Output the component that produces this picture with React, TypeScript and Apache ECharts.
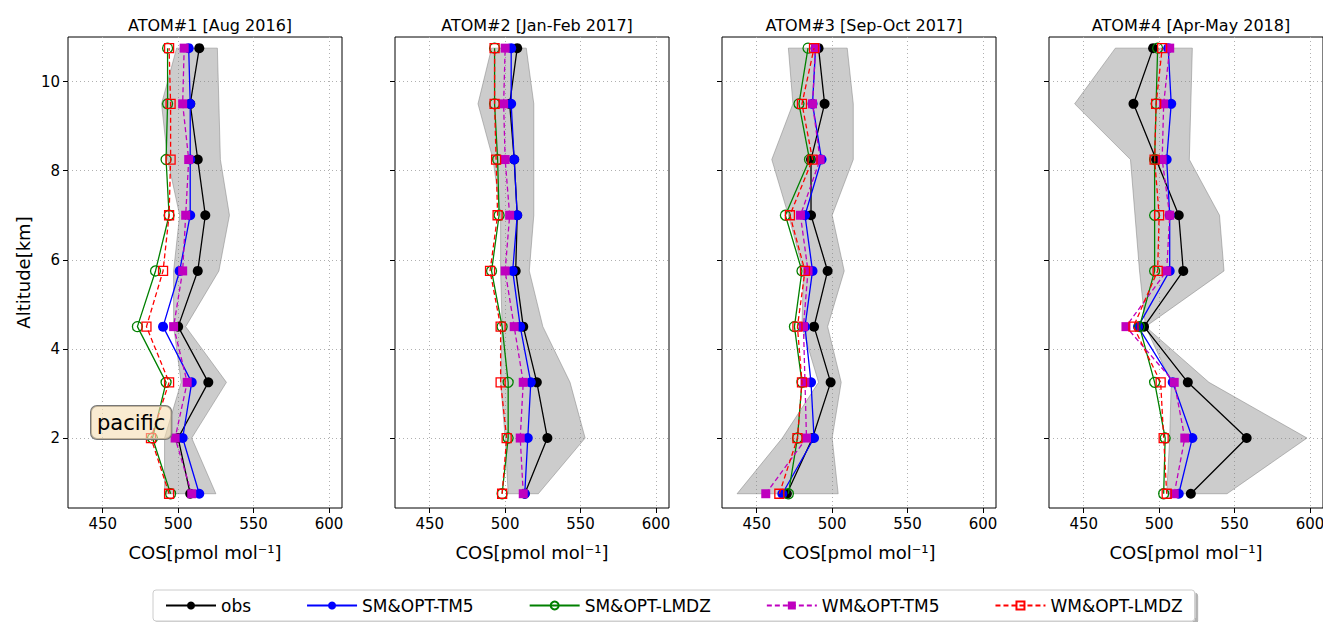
import React, { useEffect, useRef } from "react";
import * as echarts from "echarts";

const altitudes = [0.75, 2, 3.25, 4.5, 5.75, 7, 8.25, 9.5, 10.75];
const titles = ["ATOM#1 [Aug 2016]", "ATOM#2 [Jan-Feb 2017]", "ATOM#3 [Sep-Oct 2017]", "ATOM#4 [Apr-May 2018]"];
const xTicks = [450, 500, 550, 600];
const yTicks = [2, 4, 6, 8, 10];

const obs = [
  [508, 500, 520, 500, 513, 518, 513, 508, 514],
  [513, 528, 521, 512, 507, 508, 506, 503, 508],
  [470, 487, 499, 488, 497, 486, 486, 495, 491],
  [521, 558, 519, 490, 516, 513, 498, 483, 496],
];
const bandLow = [
  [491, 491, 502, 497, 497, 501, 493, 489, 499],
  [502, 500, 497, 498, 497, 497, 492, 482, 491],
  [437, 467, 491, 480, 481, 471, 460, 474, 471],
  [505, 507, 508, 491, 487, 484, 481, 444, 471],
];
const bandHigh = [
  [525, 509, 532, 505, 527, 534, 528, 527, 526],
  [522, 553, 543, 525, 516, 519, 519, 519, 514],
  [504, 500, 506, 497, 508, 500, 514, 514, 510],
  [545, 598, 533, 491, 543, 540, 520, 521, 522],
];
const smTM5 = [
  [514, 503, 509, 490, 501, 508, 508, 508, 507],
  [513, 515, 517, 510, 505, 508, 506, 504, 504],
  [467, 488, 486, 482, 487, 482, 493, 487, 489],
  [513, 522, 509, 486, 507, 507, 505, 508, 506],
];
const smLMDZ = [
  [495, 483, 492, 473, 485, 494, 492, 493, 493],
  [498, 502, 502, 498, 491, 496, 495, 493, 493],
  [471, 477, 480, 475, 480, 469, 485, 478, 484],
  [503, 504, 497, 487, 497, 497, 497, 498, 499],
];
const wmTM5 = [
  [509, 498, 506, 497, 503, 505, 507, 503, 504],
  [512, 510, 512, 506, 500, 503, 500, 499, 500],
  [456, 483, 482, 481, 484, 479, 492, 487, 489],
  [510, 517, 510, 478, 505, 507, 502, 503, 507],
];
const wmLMDZ = [
  [494, 482, 494, 479, 490, 494, 495, 495, 494],
  [498, 501, 497, 497, 490, 495, 494, 493, 493],
  [465, 477, 480, 477, 482, 472, 487, 480, 488],
  [505, 503, 501, 483, 499, 500, 497, 498, 502],
];

const seriesDefs = [
  { name: "obs", data: obs, color: "#000000", symbol: "circle", filled: true, dashed: false },
  { name: "SM&OPT-TM5", data: smTM5, color: "#0000ff", symbol: "circle", filled: true, dashed: false },
  { name: "SM&OPT-LMDZ", data: smLMDZ, color: "#008000", symbol: "circle", filled: false, dashed: false },
  { name: "WM&OPT-TM5", data: wmTM5, color: "#bf00bf", symbol: "rect", filled: true, dashed: true },
  { name: "WM&OPT-LMDZ", data: wmLMDZ, color: "#ff0000", symbol: "rect", filled: false, dashed: true },
];

const FONT = "DejaVu Sans";
const lefts = [60, 387, 714, 1041];

export default function App() {
  const ref = useRef<HTMLDivElement>(null);
  useEffect(() => {
    const chart = echarts.init(ref.current!, null, { renderer: "svg" });
    const grids = lefts.map((l) => ({ left: l, top: 29, width: 274, height: 471, show: true, borderColor: "#000", borderWidth: 1 }));
    const xAxes = lefts.map((_, i) => ({
      type: "value", gridIndex: i, min: 427, max: 608.6,
      name: "COS[pmol mol⁻¹]", nameLocation: "middle", nameGap: 35,
      nameTextStyle: { fontFamily: FONT, fontSize: 18, color: "#000" },
      axisLine: { show: false },
      axisTick: { show: true, length: 5, customValues: xTicks, lineStyle: { color: "#000" } },
      axisLabel: { customValues: xTicks, fontFamily: FONT, fontSize: 15, color: "#000", margin: 8 },
      splitLine: { show: true, lineStyle: { type: [1, 3], color: "#b0b0b0" } },
    }));
    const yAxes = lefts.map((_, i) => ({
      type: "value", gridIndex: i, min: 0.43, max: 11.0,
      name: i === 0 ? "Altitude[km]" : "", nameLocation: "middle", nameGap: 36,
      nameTextStyle: { fontFamily: FONT, fontSize: 18, color: "#000" },
      axisLine: { show: false },
      axisTick: { show: true, length: 5, customValues: yTicks, lineStyle: { color: "#000" } },
      axisLabel: { show: i === 0, customValues: yTicks, fontFamily: FONT, fontSize: 15, color: "#000", margin: 8 },
      splitLine: { show: true, lineStyle: { type: [1, 3], color: "#b0b0b0" } },
    }));
    const series: any[] = [];
    lefts.forEach((_, p) => {
      const poly = [
        ...altitudes.map((a, k) => [bandLow[p][k], a]),
        ...altitudes.map((a, k) => [bandHigh[p][k], a]).reverse(),
      ];
      series.push({
        type: "custom", xAxisIndex: p, yAxisIndex: p, silent: true, z: 1,
        data: [0],
        renderItem: (params: any, api: any) => ({
          type: "polygon",
          shape: { points: poly.map((pt) => api.coord(pt)) },
          style: { fill: "rgba(128,128,128,0.4)", stroke: "rgba(128,128,128,0.5)", lineWidth: 1 },
        }),
      });
      seriesDefs.forEach((d, si) => {
        series.push({
          type: "line", name: d.name, xAxisIndex: p, yAxisIndex: p, z: 2 + si,
          data: altitudes.map((a, k) => [d.data[p][k], a]),
          symbol: d.symbol, symbolSize: d.symbol === "rect" ? 9 : 10, showSymbol: true,
          lineStyle: { color: d.color, width: 1.3, type: d.dashed ? [5, 3] : "solid" },
          itemStyle: { color: d.filled ? d.color : "#ffffff00", borderColor: d.color, borderWidth: d.filled ? 0 : 1.3 },
          emphasis: { disabled: true },
        });
      });
    });
    chart.setOption({
      animation: false,
      textStyle: { fontFamily: FONT },
      title: lefts.map((l, i) => ({
        text: titles[i], left: l + 137, top: 4, textAlign: "center",
        textStyle: { fontFamily: FONT, fontSize: 16, fontWeight: "normal", color: "#000" },
      })),
      grid: grids,
      xAxis: xAxes,
      yAxis: yAxes,
      series,
      legend: {
        data: seriesDefs.map((d) => d.name),
        left: 145, top: 582, itemWidth: 50, itemHeight: 10, itemGap: 55,
        borderColor: "#ccc", borderWidth: 1, borderRadius: 3, padding: [7, 12],
        shadowColor: "rgba(0,0,0,0.3)", shadowOffsetX: 3, shadowOffsetY: 3, shadowBlur: 0,
        backgroundColor: "#fff",
        textStyle: { fontFamily: FONT, fontSize: 17, color: "#000" },
      },
      graphic: [{
        type: "text", left: 82, top: 397,
        style: {
          text: "pacific", fontFamily: FONT, fontSize: 21, fill: "#000",
          backgroundColor: "rgba(245,222,179,0.6)", borderColor: "#777", borderWidth: 1,
          borderRadius: 6, padding: [6, 6],
        },
        z: 100,
      }],
    });
    return () => chart.dispose();
  }, []);
  return <div ref={ref} style={{ width: 1323, height: 614 }} />;
}
